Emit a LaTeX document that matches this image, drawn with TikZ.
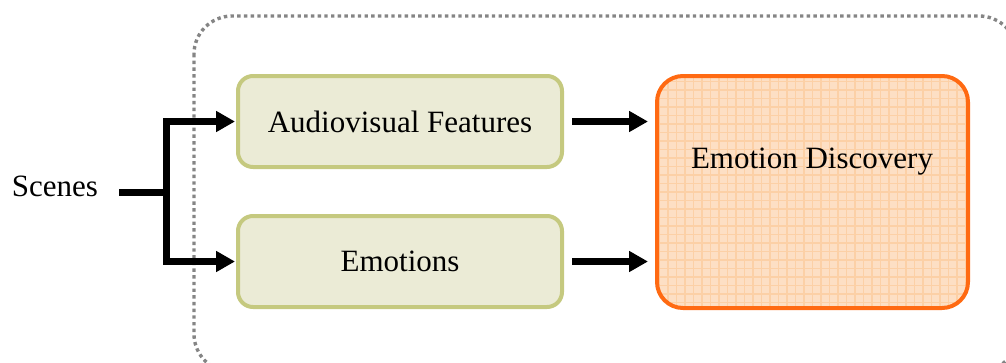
\documentclass[tikz,border=0pt]{standalone}
\usepackage{fontspec}
\setmainfont{Liberation Serif}
\usetikzlibrary{arrows.meta}

\definecolor{framegray}{HTML}{858585}
\definecolor{olivefill}{HTML}{EBEBD6}
\definecolor{oliveline}{HTML}{C5C97F}
\definecolor{peachfill}{HTML}{FDDFC4}
\definecolor{peachgrid}{HTML}{FCD0A6}
\definecolor{orangeline}{HTML}{FF6A12}

\tikzset{
  stagebox/.style={draw=oliveline, fill=olivefill, line width=4pt,
    rounded corners=15pt, minimum width=324pt, minimum height=91pt,
    inner sep=0pt, font=\fontsize{31}{36}\selectfont},
  resultbox/.style={draw=orangeline, fill=peachfill, line width=4pt,
    rounded corners=26pt, minimum width=311pt, minimum height=232pt,
    inner sep=0pt,
    path picture={\draw[peachgrid, line width=1.3pt, step=8.5pt]
      (path picture bounding box.south west) grid
      (path picture bounding box.north east);}},
  flow/.style={line width=7pt, -{Triangle[length=19pt, width=20pt]}},
  feed/.style={line width=7pt},
  frame/.style={draw=framegray, line width=3.4pt,
    dash pattern=on 3.4pt off 3.3pt, rounded corners=38pt},
  plain/.style={inner sep=0pt, font=\fontsize{31}{36}\selectfont}
}

\begin{document}
\begin{tikzpicture}[x=1pt, y=-1pt]
  \useasboundingbox (0,0) rectangle (1006,362);

  % dotted enclosure of the analysis stage
  \begin{scope}
    \clip (0,0) rectangle (1006,362);
    \draw[frame] (194,16) rectangle (1017,372);
  \end{scope}

  % input
  \node[plain, outer xsep=21pt] (scenes) at (55,186) {Scenes};

  % processing stages
  \node[stagebox] (av) at (400,121.5) {Audiovisual Features};
  \node[stagebox] (emo) at (400,261.5) {Emotions};
  \node[resultbox] (disc) at (812.5,192) {};
  \node[plain] (disctext) at (812,162) {Emotion Discovery};

  % connectors
  \coordinate (split) at (166,192);
  \draw[feed] (scenes.east |- split) -- (split);
  \draw[flow, shorten >=1pt] (split) |- (av.west);
  \draw[flow, shorten >=1pt] (split) |- (emo.west);
  \draw[flow, shorten >=7pt] ([xshift=8pt]av.east) -- (av.east -| disc.west);
  \draw[flow, shorten >=7pt] ([xshift=8pt]emo.east) -- (emo.east -| disc.west);
\end{tikzpicture}
\end{document}
